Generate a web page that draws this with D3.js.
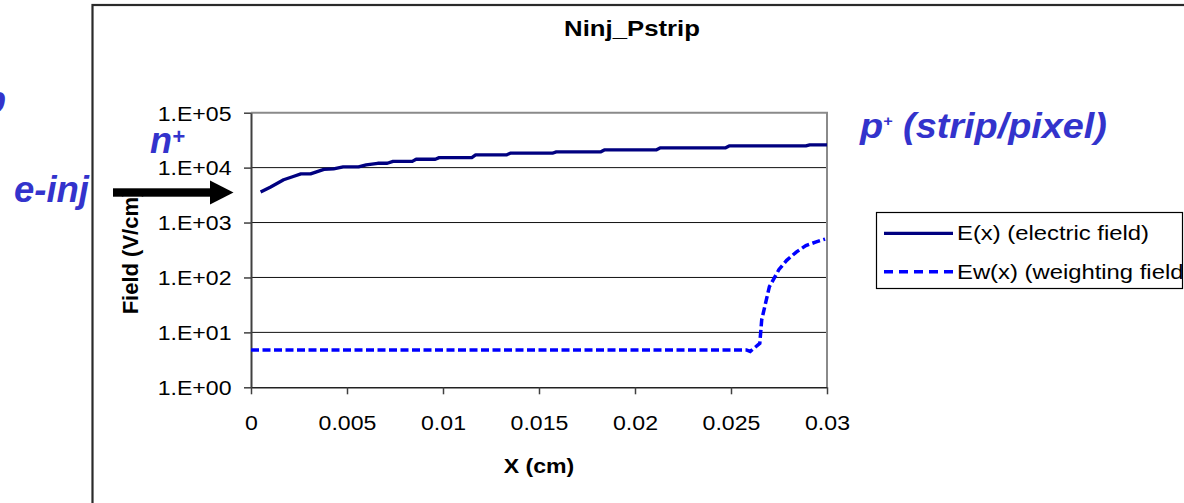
<!DOCTYPE html>
<html><head><meta charset="utf-8">
<script src="https://cdn.jsdelivr.net/npm/d3@7"></script>
<style>
html,body{margin:0;padding:0;background:#fff;overflow:hidden}
svg{display:block}
text{font-family:"Liberation Sans",Arial,sans-serif}
</style></head><body>
<svg id="c" width="1184" height="503"></svg>
<script>
// ---- data ----
const chartTitle = "Ninj_Pstrip";
const xAxisTitle = "X (cm)";
const yAxisTitle = "Field (V/cm)";
const xTicks = [0, 0.005, 0.01, 0.015, 0.02, 0.025, 0.03];
const xTickLabels = ["0", "0.005", "0.01", "0.015", "0.02", "0.025", "0.03"];
const yTicks = [1, 10, 100, 1000, 10000, 100000];
const yTickLabels = ["1.E+00", "1.E+01", "1.E+02", "1.E+03", "1.E+04", "1.E+05"];
const seriesNames = ["E(x) (electric field)", "Ew(x) (weighting field)"];
const eX = [0.0005,0.0010,0.0017,0.0022,0.0026,0.0031,0.0038,0.0043,0.0048,0.0056,0.0060,0.0066,0.0071,0.0074,0.0084,0.0086,0.0096,0.0098,0.0115,0.0117,0.0133,0.0135,0.0157,0.0159,0.0182,0.0184,0.0211,0.0213,0.0247,0.0249,0.0289,0.0291,0.0300];
const eVal = [3600,4400,6000,6900,7700,7700,9300,9500,10300,10300,11200,12000,12000,13000,13000,14200,14200,15200,15200,17000,17000,18300,18300,19300,19300,21000,21000,22800,22800,24800,24800,25900,25900];
const ewX = [0, 0.0258, 0.0260, 0.0265, 0.0266, 0.0268, 0.0270, 0.0275, 0.0279, 0.0284, 0.0289, 0.0294, 0.0299];
const ewVal = [4.8, 4.8, 4.5, 6.3, 17, 34, 68, 140, 205, 290, 380, 440, 500];

// ---- layout ----
const svg = d3.select("#c");
const L = 251, R = 827, T = 112.7, B = 387.3;
const x = d3.scaleLinear().domain([0, 0.03]).range([L, R]);
const y = d3.scaleLog().domain([1, 1e5]).range([B, T]);
const FS = 21, SX = 1.1;

// outer chart frame
svg.append("rect").attr("x", 92.5).attr("y", 5).attr("width", 1200).attr("height", 600)
  .attr("fill", "#fff").attr("stroke", "#2a2a2a").attr("stroke-width", 2.2);

// plot area
svg.append("rect").attr("x", L).attr("y", T).attr("width", R - L).attr("height", B - T).attr("fill", "#fff");

// gridlines
svg.append("g").selectAll("line").data(yTicks.slice(1, -1)).join("line")
  .attr("x1", L).attr("x2", R).attr("y1", d => y(d)).attr("y2", d => y(d))
  .attr("stroke", "#111").attr("stroke-width", 1);
// plot border (top/right)
svg.append("path").attr("d", `M${L},${T}H${R}V${B}`).attr("fill", "none")
  .attr("stroke", "#8a8a8a").attr("stroke-width", 2);

// axes
const yAxis = d3.axisLeft(y).tickValues(yTicks).tickFormat((d, i) => yTickLabels[i]).tickSize(7).tickSizeOuter(0);
const gy = svg.append("g").attr("transform", `translate(${L},0)`).call(yAxis);
gy.select(".domain").attr("stroke", "#404040").attr("stroke-width", 2);
gy.selectAll(".tick line").attr("stroke", "#404040").attr("stroke-width", 1.5);
gy.selectAll(".tick text").attr("x", null).attr("dy", "0.35em")
  .attr("transform", `translate(-19.5,0) scale(${SX},1)`)
  .attr("font-size", FS).attr("fill", "#000").attr("font-family", "Liberation Sans, Arial, sans-serif");

const xAxis = d3.axisBottom(x).tickValues(xTicks).tickFormat((d, i) => xTickLabels[i]).tickSize(7).tickSizeOuter(0);
const gx = svg.append("g").attr("transform", `translate(0,${B})`).call(xAxis);
gx.select(".domain").attr("stroke", "#222").attr("stroke-width", 1.5);
gx.selectAll(".tick line").attr("stroke", "#404040").attr("stroke-width", 1.5);
gx.selectAll(".tick text").attr("y", null).attr("dy", null)
  .attr("transform", `translate(0,43) scale(${SX},1)`)
  .attr("font-size", FS).attr("fill", "#000").attr("font-family", "Liberation Sans, Arial, sans-serif");

// series
const line = d3.line().x(d => x(d[0])).y(d => y(d[1]));
svg.append("path").datum(eX.map((v, i) => [v, eVal[i]])).attr("d", line)
  .attr("fill", "none").attr("stroke", "#000080").attr("stroke-width", 3.3).attr("stroke-linejoin", "round");
svg.append("path").datum(ewX.map((v, i) => [v, ewVal[i]])).attr("d", line)
  .attr("fill", "none").attr("stroke", "#0000ff").attr("stroke-width", 3.5).attr("stroke-dasharray", "8,3.5");

// title & axis titles
svg.append("text").attr("transform", `translate(632,36) scale(1.17,1)`).attr("text-anchor", "middle")
  .attr("font-size", 22).attr("font-weight", "bold").text(chartTitle);
svg.append("text").attr("transform", `translate(539,473) scale(${SX},1)`).attr("text-anchor", "middle")
  .attr("font-size", 21).attr("font-weight", "bold").text(xAxisTitle);
svg.append("text").attr("transform", `translate(138,252) rotate(-90)`).attr("text-anchor", "middle")
  .attr("font-size", 22).attr("font-weight", "bold").text(yAxisTitle);

// legend
const lg = svg.append("g");
lg.append("clipPath").attr("id", "lgclip").append("rect").attr("x", 876).attr("y", 212).attr("width", 306).attr("height", 76);
lg.append("rect").attr("x", 876.5).attr("y", 212.5).attr("width", 306).attr("height", 76)
  .attr("fill", "#fff").attr("stroke", "#000").attr("stroke-width", 1.2);
const lgc = lg.append("g").attr("clip-path", "url(#lgclip)");
lgc.append("line").attr("x1", 884).attr("x2", 953).attr("y1", 233.3).attr("y2", 233.3)
  .attr("stroke", "#000080").attr("stroke-width", 3.3);
lgc.append("line").attr("x1", 884).attr("x2", 953).attr("y1", 271.7).attr("y2", 271.7)
  .attr("stroke", "#0000ff").attr("stroke-width", 3.5).attr("stroke-dasharray", "9,6");
lgc.append("text").attr("transform", `translate(957,240) scale(1.135,1)`).attr("font-size", FS).text(seriesNames[0]);
lgc.append("text").attr("transform", `translate(957,278.5) scale(1.135,1)`).attr("font-size", FS).text(seriesNames[1]);

// annotations
const AC = "#3333cc";
function ann(xp, yp, main, sup, fs, supfs, supdy, len) {
  const t = svg.append("text").attr("x", xp).attr("y", yp).attr("fill", AC)
    .attr("font-size", fs).attr("font-weight", "bold").attr("font-style", "italic");
  t.append("tspan").text(main[0]);
  if (sup) t.append("tspan").attr("font-size", supfs).attr("dy", supdy).text(sup);
  if (main[1]) t.append("tspan").attr("dy", sup ? -supdy : 0).text(main[1]);
  if (len) t.attr("textLength", len).attr("lengthAdjust", "spacingAndGlyphs");
  return t;
}
ann(150, 153, ["n"], "+", 36, 22, -9, null);
ann(14, 202, ["e-inj"], null, 36, 0, 0, 75);
ann(860, 138, ["p", " (strip/pixel)"], "+", 35, 15, -12, 247);
svg.append("text").attr("x", 6).attr("y", 112).attr("text-anchor", "end").attr("fill", AC)
  .attr("font-size", 36).attr("font-weight", "bold").attr("font-style", "italic").text("p");

// arrow
svg.append("rect").attr("x", 113).attr("y", 188.3).attr("width", 99).attr("height", 8.4).attr("fill", "#000");
svg.append("path").attr("d", "M210,180.5L233.5,192.5L210,204.5Z").attr("fill", "#000");
</script>
</body></html>
